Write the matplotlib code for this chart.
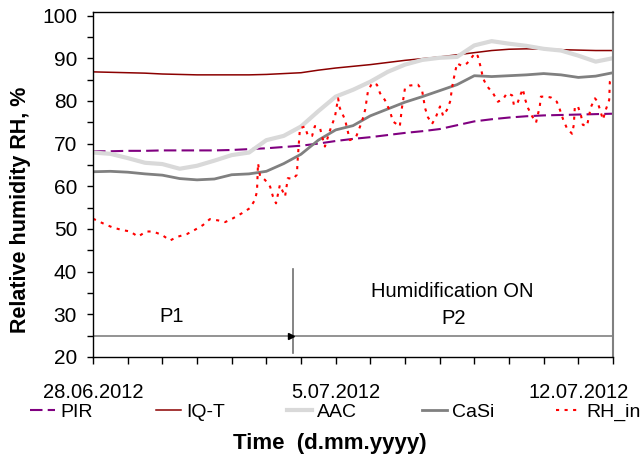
import matplotlib
matplotlib.use("Agg")
import matplotlib.pyplot as plt
from matplotlib.ticker import MultipleLocator, FuncFormatter

plt.rcParams['font.family'] = ['Liberation Sans', 'DejaVu Sans']

# Days since 28.06.2012 (half-day grid for the smooth sensor series)
days = [0, 0.5, 1, 1.5, 2, 2.5, 3, 3.5, 4, 4.5, 5, 5.5, 6, 6.5, 7, 7.5,
        8, 8.5, 9, 9.5, 10, 10.5, 11, 11.5, 12, 12.5, 13, 13.5, 14, 14.5, 15]

pir = [68.2, 68.2, 68.3, 68.3, 68.4, 68.4, 68.4, 68.4, 68.5, 68.7, 68.9, 69.2,
       69.5, 70.0, 70.6, 71.1, 71.5, 72.0, 72.5, 72.9, 73.4, 74.3, 75.2, 75.7,
       76.1, 76.4, 76.6, 76.7, 76.8, 76.9, 77.0]
iqt = [86.8, 86.7, 86.6, 86.5, 86.3, 86.2, 86.1, 86.1, 86.1, 86.1, 86.2, 86.4,
       86.6, 87.2, 87.7, 88.1, 88.5, 89.0, 89.5, 89.9, 90.3, 90.8, 91.3, 91.8,
       92.1, 92.2, 92.1, 92.0, 91.9, 91.8, 91.8]
aac = [67.9, 67.6, 66.6, 65.5, 65.2, 64.1, 64.8, 66.0, 67.3, 67.9, 70.8, 71.8,
       74.0, 77.6, 81.0, 82.6, 84.5, 86.8, 88.5, 89.6, 90.1, 90.3, 93.0, 94.0,
       93.4, 92.9, 92.2, 91.8, 90.6, 89.2, 90.0]
casi = [63.4, 63.5, 63.3, 62.9, 62.6, 61.8, 61.5, 61.7, 62.7, 62.9, 63.5, 65.3,
        67.5, 70.8, 73.2, 74.2, 76.5, 78.1, 79.7, 81.0, 82.4, 83.8, 85.9, 85.7,
        85.9, 86.1, 86.4, 86.1, 85.5, 85.8, 86.6]

# Indoor RH is much noisier, read at its own time points
rh_days = [0.00, 0.29, 0.55, 0.81, 1.07, 1.30, 1.53, 1.73, 1.99, 2.22, 2.45, 2.71,
           2.94, 3.17, 3.37, 3.61, 3.81, 4.04, 4.30, 4.53, 4.67, 4.73, 4.76, 4.82,
           4.96, 5.11, 5.19, 5.28, 5.39, 5.54, 5.62, 5.77, 5.88, 5.91, 5.97, 6.11,
           6.20, 6.32, 6.40, 6.55, 6.61, 6.69, 6.84, 6.98, 7.07, 7.12, 7.27, 7.41,
           7.59, 7.76, 7.85, 7.93, 8.05, 8.19, 8.28, 8.42, 8.57, 8.65, 8.85, 8.91,
           9.00, 9.14, 9.37, 9.49, 9.58, 9.66, 9.78, 9.89, 10.01, 10.10, 10.21, 10.30,
           10.38, 10.50, 10.64, 10.79, 10.87, 11.02, 11.10, 11.19, 11.25, 11.36, 11.54,
           11.68, 11.83, 11.94, 12.09, 12.14, 12.23, 12.32, 12.40, 12.46, 12.55, 12.66,
           12.78, 12.89, 12.92, 13.07, 13.21, 13.38, 13.47, 13.56, 13.67, 13.82, 13.87,
           13.90, 13.99, 14.08, 14.13, 14.25, 14.36, 14.48, 14.54, 14.62, 14.71, 14.80,
           14.89, 14.91, 14.97]
rh_in = [52.4, 51.3, 50.4, 49.8, 49.4, 48.2, 49.4, 49.4, 48.6, 47.3, 48.2, 48.8,
         49.8, 50.9, 52.3, 52.0, 51.6, 52.5, 53.7, 54.9, 56.8, 58.8, 65.4, 62.3,
         61.5, 59.9, 57.6, 56.0, 60.3, 57.6, 61.9, 61.7, 62.7, 67.0, 73.6, 74.0,
         71.8, 71.8, 74.1, 73.6, 71.6, 69.3, 73.2, 76.3, 80.6, 78.3, 75.6, 70.8,
         71.6, 75.2, 77.9, 82.2, 84.2, 83.8, 81.8, 80.2, 77.5, 75.2, 74.0, 78.3,
         83.0, 83.6, 83.8, 82.6, 78.3, 76.2, 74.6, 76.2, 78.7, 76.5, 77.9, 79.8,
         84.2, 88.8, 88.2, 88.8, 89.6, 91.2, 90.5, 87.7, 85.3, 83.5, 81.8,
         79.8, 80.4, 81.8, 81.3, 79.1, 79.1, 81.2, 82.8, 80.5, 78.3, 76.5,
         74.9, 78.8, 81.0, 81.0, 80.8, 79.8, 77.9, 75.7, 73.6, 72.3, 74.4,
         78.7, 78.7, 76.5, 74.4, 74.1, 78.5, 80.6, 80.0, 78.1, 75.6, 78.1,
         80.2, 84.5, 85.5]

date_labels = {0: "28.06.2012", 7: "5.07.2012", 14: "12.07.2012"}
switch_day = 5.77  # humidification switched on

fig = plt.figure(figsize=(6.42, 4.62), dpi=100)
ax = fig.add_axes([0.1449, 0.2273, 0.8099, 0.7474])

lines = []
lines += ax.plot(days, pir, color='#800080', lw=1.5, linestyle=(0, (6, 2.5)), label='PIR')
lines += ax.plot(days, iqt, color='#8B0000', lw=1.1, label='IQ-T')
lines += ax.plot(days, aac, color='#D9D9D9', lw=3.0, label='AAC')
lines += ax.plot(days, casi, color='#808080', lw=2.0, label='CaSi')
lines += ax.plot(rh_days, rh_in, color='#FF0000', lw=1.5, linestyle=(0, (1.5, 2.6)), label='RH_in')

# period markers
ax.plot([switch_day, switch_day], [21, 40.6], color='#707070', lw=1.2)
ax.axhline(25, color='#808080', lw=1.2)
ax.plot([switch_day - 0.05], [25], marker='>', color='black', markersize=5)
ax.text(2.28, 29.4, "P1", ha='center', va='center', fontsize=14.5)
ax.text(10.37, 35.3, "Humidification ON", ha='center', va='center', fontsize=14.5)
ax.text(10.4, 29.1, "P2", ha='center', va='center', fontsize=14.5)

ax.set_xlim(0, 15)
ax.set_ylim(20, 100.9)
ax.yaxis.set_major_locator(MultipleLocator(10))
ax.yaxis.set_minor_locator(MultipleLocator(5))
ax.set_yticks([20, 30, 40, 50, 60, 70, 80, 90, 100])
ax.xaxis.set_major_locator(MultipleLocator(1))
ax.xaxis.set_major_formatter(FuncFormatter(lambda v, p: date_labels.get(int(round(v)), "")))
ax.tick_params(axis='y', which='both', direction='out', length=4.5, width=1, pad=7, labelsize=15)
ax.tick_params(axis='x', direction='out', length=5, width=1, pad=14, labelsize=14.5)
for s in ['left', 'bottom', 'top']:
    ax.spines[s].set_color('black')
    ax.spines[s].set_linewidth(1)
ax.spines['right'].set_color('#808080')
ax.spines['right'].set_linewidth(1.5)

ax.set_ylabel("Relative humidity RH, %", fontsize=15.5, fontweight='bold')
ax.yaxis.set_label_coords(-0.12, 0.426)

fig.text(330 / 642, 1 - 444 / 462, "Time  (d.mm.yyyy)", ha='center', va='center',
         fontsize=16, fontweight='bold')

# legend entries placed one by one below the axis
legend_x = [30, 156, 287, 422, 556]
for ln, x0 in zip(lines, legend_x):
    fig.legend(handles=[ln], loc='center left', bbox_to_anchor=(x0 / 642, 1 - 411.7 / 462),
               frameon=False, fontsize=14, handlelength=1.3, handletextpad=0.25,
               borderpad=0, borderaxespad=0)

fig.savefig("out.png", dpi=100)
